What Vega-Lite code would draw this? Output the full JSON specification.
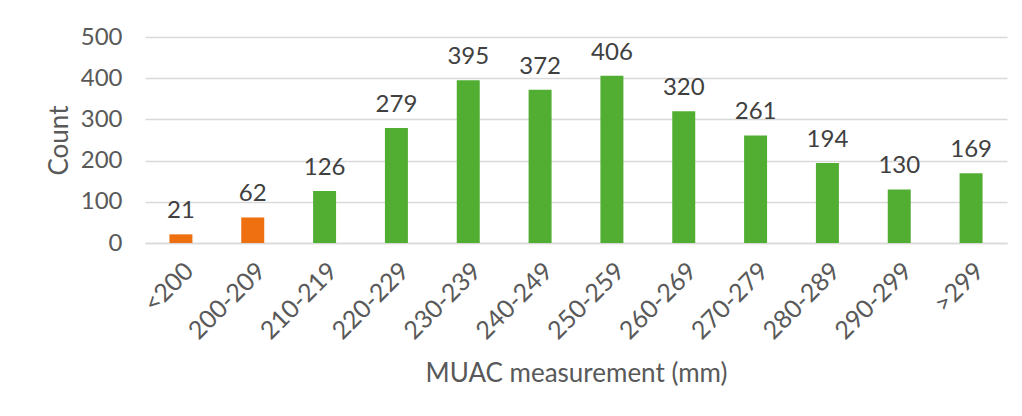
{
  "$schema": "https://vega.github.io/schema/vega-lite/v6.json",
  "width": 862,
  "height": 206,
  "autosize": {"type": "none"},
  "padding": {"left": 145, "top": 37, "right": 15, "bottom": 173},
  "background": "white",
  "config": {
    "view": {"stroke": null},
    "font": "Lato",
    "axis": {"labelFont": "Lato", "titleFont": "Lato", "labelColor": "#595959", "titleColor": "#595959", "titleFontWeight": "normal"}
  },
  "data": {
    "values": [
      {"range": "<200", "count": 21, "group": "low"},
      {"range": "200-209", "count": 62, "group": "low"},
      {"range": "210-219", "count": 126, "group": "ok"},
      {"range": "220-229", "count": 279, "group": "ok"},
      {"range": "230-239", "count": 395, "group": "ok"},
      {"range": "240-249", "count": 372, "group": "ok"},
      {"range": "250-259", "count": 406, "group": "ok"},
      {"range": "260-269", "count": 320, "group": "ok"},
      {"range": "270-279", "count": 261, "group": "ok"},
      {"range": "280-289", "count": 194, "group": "ok"},
      {"range": "290-299", "count": 130, "group": "ok"},
      {"range": ">299", "count": 169, "group": "ok"}
    ]
  },
  "encoding": {
    "x": {
      "field": "range", "type": "nominal", "sort": null,
      "scale": {"paddingInner": 0.68, "paddingOuter": 0.34},
      "axis": {
        "title": "MUAC measurement (mm)", "titleFontSize": 26, "titlePadding": 17,
        "labelAngle": -45, "labelFontSize": 25, "labelPadding": 15,
        "ticks": false, "domain": true, "domainColor": "#d9d9d9", "domainWidth": 1.5
      }
    },
    "y": {
      "field": "count", "type": "quantitative",
      "scale": {"domain": [0, 500]},
      "axis": {
        "title": "Count", "titleFontSize": 26, "titlePadding": 8,
        "values": [0, 100, 200, 300, 400, 500], "labelFontSize": 24, "labelPadding": 23,
        "ticks": false, "domain": false, "gridColor": "#d9d9d9", "gridWidth": 1.5
      }
    }
  },
  "layer": [
    {
      "mark": {"type": "bar"},
      "encoding": {
        "color": {"field": "group", "type": "nominal", "scale": {"domain": ["low", "ok"], "range": ["#EE7010", "#52AE32"]}, "legend": null}
      }
    },
    {
      "mark": {"type": "text", "baseline": "alphabetic", "dy": -16, "fontSize": 24, "color": "#404040"},
      "encoding": {"text": {"field": "count", "type": "quantitative"}}
    }
  ]
}
